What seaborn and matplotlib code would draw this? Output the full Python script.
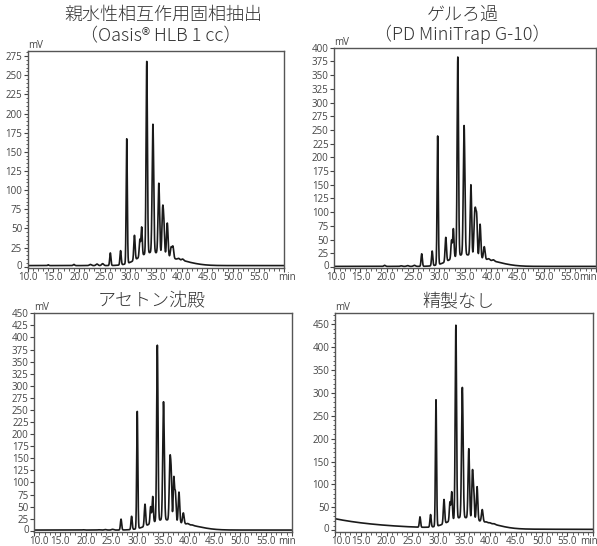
import numpy as np
import pandas as pd
import matplotlib
matplotlib.use("Agg")
import matplotlib.pyplot as plt
import matplotlib.transforms as mtransforms
from matplotlib.ticker import MultipleLocator
import seaborn as sns

# ---- peak tables: retention time (min), apex height (mV), peak sigma (min) ----
# 親水性相互作用固相抽出 (Oasis HLB 1 cc)
oasis_rt = [14.0, 19.0, 22.2, 23.5, 24.6, 26.1, 28.1, 29.3, 30.8, 31.85, 32.2, 33.2,
            34.4, 35.55, 36.3, 36.55, 37.2, 37.95, 38.3, 39.4, 40.2, 41.0]
oasis_mv = [2.5, 3, 3, 3.5, 4, 18, 21, 167, 41, 36, 52, 268,
            186, 109, 79, 61, 57, 26, 27, 11, 10, 7]
oasis_sd = [0.1, 0.15, 0.2, 0.2, 0.2, 0.12, 0.12, 0.11, 0.13, 0.12, 0.12, 0.13,
            0.15, 0.15, 0.14, 0.13, 0.15, 0.15, 0.15, 0.2, 0.2, 0.25]
oasis_env = [(33.8, 15, 2.4), (38.6, 7, 3.0)]

# ゲルろ過 (PD MiniTrap G-10)
gel_rt = [19.6, 22.8, 24.0, 25.3, 26.7, 28.7, 29.75, 31.3, 32.4, 32.75, 33.6, 34.8,
          36.1, 36.75, 36.95, 37.2, 37.85, 38.65, 39.5, 40.4, 41.3]
gel_mv = [3, 2, 2.5, 3, 24, 29, 239, 54, 49, 70, 383, 258,
          150, 89, 109, 98, 78, 37, 15, 13, 9]
gel_sd = [0.15, 0.2, 0.2, 0.2, 0.12, 0.12, 0.11, 0.13, 0.12, 0.12, 0.13, 0.15,
          0.14, 0.12, 0.12, 0.13, 0.14, 0.15, 0.2, 0.2, 0.25]
gel_env = [(34.3, 18, 2.4), (39.0, 10, 3.0)]

# アセトン沈殿
acetone_rt = [19.5, 22.5, 23.8, 25.2, 26.85, 28.9, 30.0, 31.5, 32.6, 33.0, 33.9, 35.1,
              36.35, 36.6, 37.1, 37.4, 38.1, 38.95, 39.8, 40.7, 41.6]
acetone_mv = [2, 2, 2.5, 3, 24, 30, 247, 55, 50, 71, 384, 267,
              154, 127, 112, 83, 80, 37, 15, 12, 8]
acetone_sd = [0.15, 0.2, 0.2, 0.2, 0.12, 0.12, 0.11, 0.13, 0.12, 0.12, 0.13, 0.15,
              0.14, 0.12, 0.12, 0.13, 0.14, 0.15, 0.2, 0.2, 0.25]
acetone_env = [(34.6, 18, 2.4), (39.3, 10, 3.0)]

# 精製なし
crude_rt = [19.0, 22.5, 26.45, 28.5, 29.55, 31.1, 32.25, 32.6, 33.4, 34.65, 35.9,
            36.6, 36.85, 37.5, 38.5, 39.3, 40.0, 40.8, 41.6]
crude_mv = [11, 8, 29, 34, 285, 67, 62, 84, 448, 312, 178,
            131, 98, 95, 45, 18, 16, 14, 8]
crude_sd = [0.15, 0.2, 0.12, 0.12, 0.11, 0.13, 0.12, 0.12, 0.13, 0.15, 0.14,
            0.12, 0.12, 0.14, 0.15, 0.2, 0.2, 0.2, 0.25]
crude_env = [(34.1, 20, 2.4), (38.8, 12, 3.0)]
crude_drift = (23.5, 10.3)   # solvent-front drift: amplitude at 10 min, decay (min)

titles = [["親水性相互作用固相抽出", "（Oasis® HLB 1 cc）"],
          ["ゲルろ過", "（PD MiniTrap G-10）"],
          ["アセトン沈殿"],
          ["精製なし"]]

x_ticks = [10, 15, 20, 25, 30, 35, 40, 45, 50, 55]
x_labels = ["10.0", "15.0", "20.0", "25.0", "30.0", "35.0",
            "40.0", "45.0", "50.0", "55.0"]
time_unit = "min"


def chromatogram(rt, mv, sd, env, base=1.5, drift=None):
    t = np.arange(10.0, 60.0001, 0.01)
    rt, mv, sd = np.asarray(rt, float), np.asarray(mv, float), np.asarray(sd, float)

    def background(x):
        x = np.asarray(x, float)
        b = np.full_like(x, base)
        for c, h, s in env:
            b = b + h * np.exp(-0.5 * ((x - c) / s) ** 2)
        if drift is not None:
            b = b + drift[0] * np.exp(-(x - 10.0) / drift[1])
        return b

    # solve for amplitudes so the apex values equal the tabulated heights
    shape = np.exp(-0.5 * ((rt[:, None] - rt[None, :]) / sd[None, :]) ** 2)
    amp = np.linalg.solve(shape, mv - background(rt))
    amp = np.clip(amp, 0, None)
    y = background(t) + (amp[None, :] * np.exp(-0.5 * ((t[:, None] - rt[None, :]) / sd[None, :]) ** 2)).sum(axis=1)
    return pd.DataFrame({"time": t, "mV": y})


sns.set_theme(style="white")
plt.rcParams["font.family"] = ["Open Sans", "Noto Sans CJK JP", "DejaVu Sans"]

W, H = 597, 546
fig = plt.figure(figsize=(W / 100, H / 100), dpi=100)

# axes boxes in pixels: left, top, right, bottom
boxes = [(27.7, 50.7, 284.3, 267.5),
         (334.3, 47.7, 596.0, 267.5),
         (34.3, 313.3, 291.7, 531.5),
         (335.0, 313.3, 593.3, 531.5)]
ylims = [(-1, 282), (-1, 400), (-1.5, 450), (-3, 474)]
ymajor = [25, 25, 25, 50]
yminor = [5, None, None, 10]
ymax_tick = [275, 400, 450, 450]
unit_x = [60.6, 58.4, 59.1, 59.2]
first_label_shift = [0.5, 1.5, 3.0, 4.5]   # points, nudges "10.0" clear of the y labels

frames = [chromatogram(oasis_rt, oasis_mv, oasis_sd, oasis_env),
          chromatogram(gel_rt, gel_mv, gel_sd, gel_env, base=1.0),
          chromatogram(acetone_rt, acetone_mv, acetone_sd, acetone_env),
          chromatogram(crude_rt, crude_mv, crude_sd, crude_env, drift=crude_drift)]

title_pos = [[(163, 15), (161, 36)], [(463, 15), (462, 34)], [(152, 301)], [(458, 301)]]

for i, df in enumerate(frames):
    l, t, r, b = boxes[i]
    ax = fig.add_axes([l / W, (H - b) / H, (r - l) / W, (b - t) / H])
    sns.lineplot(data=df, x="time", y="mV", ax=ax, color="#1a1a1a", lw=1.2,
                 estimator=None, errorbar=None)
    ax.set_xlim(10, 60)
    ax.set_ylim(*ylims[i])
    ax.set_xlabel("")
    ax.set_ylabel("")
    ax.set_xticks(x_ticks + [60])
    ax.set_xticklabels(x_labels + [""])
    ax.xaxis.set_minor_locator(MultipleLocator(1))
    ax.set_yticks(np.arange(0, ymax_tick[i] + 1, ymajor[i]))
    if yminor[i]:
        ax.yaxis.set_minor_locator(MultipleLocator(yminor[i]))
    ax.tick_params(axis="both", which="major", direction="out", length=2.8, width=0.8,
                   color="#444444", labelsize=7, labelcolor="#444444",
                   bottom=True, left=True)
    ax.tick_params(axis="x", which="major", pad=0.6)
    ax.tick_params(axis="y", which="major", pad=1.2)
    ax.tick_params(axis="both", which="minor", direction="out", length=1.8, width=0.6,
                   color="#444444", bottom=True, left=True)
    # keep the corner labels ("0" and "10.0") apart
    y0 = ax.get_yticklabels()[0]
    y0.set_transform(y0.get_transform()
                     + mtransforms.ScaledTranslation(0, 1.6 / 72, fig.dpi_scale_trans))
    x0 = ax.get_xticklabels()[0]
    x0.set_transform(x0.get_transform()
                     + mtransforms.ScaledTranslation(first_label_shift[i] / 72, 0,
                                                     fig.dpi_scale_trans))
    for sp in ax.spines.values():
        sp.set_color("#555555")
        sp.set_linewidth(1.0)
    ax.text(0.0, 1.0, "mV", transform=ax.transAxes, ha="left", va="bottom",
            fontsize=7, color="#444444")
    # time unit written in line with the tick labels
    unit_tr = mtransforms.offset_copy(ax.get_xaxis_transform(), fig=fig, x=0, y=-3.4,
                                      units="points")
    ax.text(unit_x[i], 0, time_unit, transform=unit_tr, ha="center", va="top",
            fontsize=7, color="#444444", clip_on=False)
    for txt, (px, py) in zip(titles[i], title_pos[i]):
        fig.text(px / W, (H - py) / H, txt, ha="center", va="center",
                 fontsize=13, color="#333333", fontweight="light",
                 family=["Noto Sans CJK JP", "DejaVu Sans"])

fig.savefig("out.png", dpi=100)
